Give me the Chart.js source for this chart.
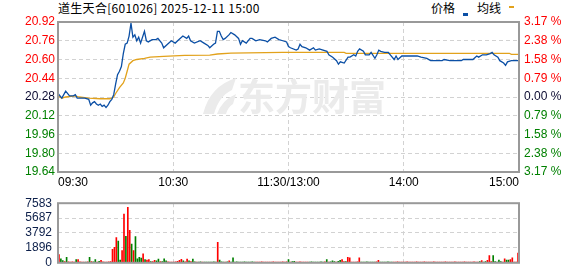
<!DOCTYPE html>
<html>
<head>
<meta charset="utf-8">
<script src="https://cdn.jsdelivr.net/npm/chart.js@4.4.1/dist/chart.umd.min.js"></script>
<style>
  html, body { margin: 0; padding: 0; background: #fff; }
  #wrap { position: relative; width: 578px; height: 276px; overflow: hidden; background: #fff; }
  .txt { position: absolute; top: 0; font: 12px "Noto Sans CJK SC", sans-serif; line-height: 16px; color: #000; white-space: nowrap; }
  .mark { position: absolute; }
  canvas { position: absolute; left: 0; }
</style>
</head>
<body>
<div id="wrap">
  <div class="txt" id="title" style="left:58px;letter-spacing:0.3px;">道生天合[601026] 2025-12-11 15:00</div>
  <div class="txt" style="left:431px;">价格</div>
  <div class="mark" style="left:463px;top:13px;width:5px;height:3px;background:#0b4fa5;"></div>
  <div class="txt" style="left:477px;">均线</div>
  <div class="mark" style="left:509px;top:6px;width:5px;height:2px;background:#e2a21c;"></div>
  <canvas id="priceChart" width="578" height="190" style="top:0;"></canvas>
  <canvas id="volChart" width="578" height="86" style="top:190px;"></canvas>
</div>
<script>
const prevClose = 20.28;
const priceTicks = [19.64, 19.80, 19.96, 20.12, 20.28, 20.44, 20.60, 20.76, 20.92];
const pctLabels = ["3.17 %", "2.38 %", "1.58 %", "0.79 %", "0.00 %", "0.79 %", "1.58 %", "2.38 %", "3.17 %"];
const timeTickMinutes = [0, 60, 120, 180, 240];
const timeTickLabels = ["09:30", "10:30", "11:30/13:00", "14:00", "15:00"];
const volGridMinutes = [60, 120, 180];
const volTicks = [0, 1896, 3792, 5687, 7583];
const watermarkText = "东方财富";

// minute index from 09:30 (0) to 15:00 (240), lunch break removed
const priceMinutes = [
  0, 2, 4, 6, 8, 9, 10, 12, 14, 16, 17, 18, 19, 20, 21, 22, 23, 24, 25, 26,
  27, 28, 29, 30, 31, 32, 33, 34, 35, 36, 37, 38, 39, 40, 41, 42, 43, 45, 46, 47,
  49, 51, 52, 54, 55, 57, 59, 61, 63, 65, 67, 68, 69, 71, 74, 76, 78, 79, 81, 82,
  83, 84, 85, 86, 87, 89, 90, 92, 94, 95, 96, 98, 100, 101, 103, 105, 108, 109, 111, 113,
  115, 117, 119, 120, 121, 124, 125, 126, 127, 129, 131, 133, 134, 136, 138, 140, 141, 143, 145, 146,
  147, 149, 151, 152, 154, 155, 156, 157, 159, 160, 162, 163, 165, 166, 167, 168, 170, 172, 173, 175,
  176, 177, 179, 181, 183, 185, 187, 189, 192, 194, 197, 200, 201, 204, 206, 208, 210, 211, 214, 216,
  218, 219, 221, 223, 225, 226, 227, 229, 230, 232, 233, 234, 236, 240
];
const priceValues = [
  20.31, 20.27, 20.33, 20.29, 20.29, 20.30, 20.27, 20.27, 20.27, 20.26, 20.21, 20.23, 20.24, 20.22, 20.21, 20.22, 20.20, 20.21, 20.19, 20.21,
  20.24, 20.26, 20.30, 20.39, 20.47, 20.50, 20.54, 20.65, 20.73, 20.74, 20.80, 20.91, 20.79, 20.81, 20.76, 20.79, 20.74, 20.84, 20.76, 20.75,
  20.77, 20.77, 20.78, 20.74, 20.70, 20.73, 20.76, 20.74, 20.77, 20.80, 20.78, 20.80, 20.76, 20.74, 20.76, 20.74, 20.72, 20.70, 20.73, 20.74,
  20.84, 20.84, 20.80, 20.77, 20.78, 20.81, 20.83, 20.81, 20.78, 20.73, 20.76, 20.74, 20.78, 20.78, 20.76, 20.77, 20.76, 20.75, 20.78, 20.79,
  20.77, 20.76, 20.75, 20.71, 20.70, 20.68, 20.69, 20.73, 20.71, 20.70, 20.68, 20.70, 20.68, 20.69, 20.68, 20.67, 20.64, 20.62, 20.59, 20.56,
  20.58, 20.57, 20.62, 20.62, 20.64, 20.63, 20.67, 20.69, 20.67, 20.64, 20.64, 20.66, 20.61, 20.64, 20.68, 20.67, 20.66, 20.66, 20.64, 20.60,
  20.63, 20.60, 20.63, 20.63, 20.63, 20.63, 20.63, 20.62, 20.61, 20.59, 20.59, 20.59, 20.60, 20.59, 20.59, 20.59, 20.59, 20.60, 20.60, 20.60,
  20.63, 20.62, 20.64, 20.64, 20.65, 20.66, 20.64, 20.62, 20.59, 20.57, 20.55, 20.58, 20.59, 20.59
];

const avgMinutes = [0, 2, 4, 9, 11, 16, 22, 27, 29, 30, 32, 34, 35, 36, 37, 39, 41, 45, 48, 55, 66, 79, 83, 90, 117, 149, 150, 235, 236, 240];
const avgValues = [
  20.29, 20.27, 20.28, 20.29, 20.28, 20.27, 20.265, 20.265, 20.28, 20.31, 20.36, 20.40, 20.44, 20.50, 20.56,
  20.59, 20.60, 20.61, 20.62, 20.627, 20.636, 20.638, 20.647, 20.655, 20.66, 20.66, 20.653, 20.653, 20.644, 20.644
];

// one bar per minute, 0..240
const volumeValues = [
  1030, 500, 280, 170, 690, 120, 100, 110, 100, 420,
  400, 120, 100, 90, 100, 110, 690, 150, 120, 400,
  100, 200, 300, 120, 100, 100, 110, 150, 1720, 1960,
  3200, 2760, 340, 1550, 6200, 3380, 7060, 4140, 2380, 1550,
  3340, 520, 690, 590, 1140, 410, 340, 410, 170, 170,
  310, 240, 480, 170, 170, 520, 240, 120, 100, 100,
  100, 120, 200, 300, 450, 240, 120, 480, 240, 150,
  470, 120, 100, 100, 110, 100, 100, 90, 100, 100,
  100, 110, 100, 2590, 350, 120, 100, 100, 110, 240,
  100, 620, 100, 110, 100, 100, 100, 110, 100, 100,
  100, 110, 100, 100, 100, 100, 110, 100, 100, 100,
  100, 100, 110, 100, 100, 100, 100, 110, 100, 120,
  410, 100, 150, 200, 100, 100, 110, 100, 100, 100,
  100, 100, 110, 100, 100, 100, 100, 110, 100, 120,
  410, 100, 120, 240, 150, 100, 200, 330, 410, 150,
  150, 690, 620, 100, 100, 100, 110, 620, 100, 100,
  100, 110, 100, 100, 100, 100, 120, 310, 100, 100,
  100, 100, 110, 100, 100, 100, 100, 110, 100, 100,
  100, 100, 110, 100, 100, 100, 100, 110, 100, 100,
  100, 110, 100, 100, 100, 100, 110, 100, 100, 100,
  100, 100, 110, 100, 100, 100, 100, 110, 100, 100,
  100, 100, 110, 100, 100, 100, 100, 120, 100, 100,
  150, 270, 100, 170, 300, 930, 170, 930, 170, 100,
  340, 150, 100, 520, 350, 350, 410, 620, 100, 100, 1240
];
// 1 = up (red), -1 = down (green)
const volumeDir = [
  1, -1, -1, 1, -1, 1, 1, 1, 1, -1,
  1, 1, 1, 1, -1, 1, -1, 1, -1, -1,
  1, -1, 1, 1, 1, 1, 1, 1, 1, 1,
  1, -1, -1, 1, 1, -1, 1, 1, -1, 1,
  -1, -1, -1, -1, 1, -1, 1, 1, -1, 1,
  1, -1, -1, 1, -1, -1, -1, 1, 1, 1,
  1, 1, 1, 1, 1, -1, 1, 1, -1, 1,
  -1, -1, 1, -1, -1, 1, -1, -1, -1, -1,
  -1, -1, -1, 1, -1, -1, -1, 1, -1, 1,
  -1, -1, -1, -1, -1, -1, -1, -1, -1, -1,
  -1, -1, -1, 1, 1, 1, 1, 1, 1, 1,
  1, 1, 1, 1, 1, 1, 1, 1, 1, 1,
  -1, 1, -1, -1, 1, 1, 1, 1, 1, 1,
  1, -1, -1, -1, -1, -1, -1, -1, -1, 1,
  -1, 1, -1, -1, -1, 1, -1, -1, 1, 1,
  -1, 1, 1, 1, 1, 1, 1, 1, -1, -1,
  -1, -1, -1, -1, -1, -1, 1, 1, -1, -1,
  -1, -1, -1, -1, -1, 1, 1, 1, 1, 1,
  1, 1, 1, 1, 1, 1, 1, 1, 1, 1,
  1, 1, 1, 1, 1, 1, 1, 1, 1, 1,
  1, 1, 1, 1, 1, 1, 1, 1, 1, 1,
  1, 1, 1, 1, 1, 1, 1, 1, 1, 1,
  -1, 1, -1, -1, 1, 1, 1, -1, -1, -1,
  -1, -1, 1, 1, -1, -1, 1, 1, 1, 1, 1
];

const RED = "#ff0000";
const GREEN = "#008000";
const DARK = "#0a0a30";
const BLUE = "#0b4fa5";
const ORANGE = "#e2a21c";
const GRID = "#d2d2d2";
const FONT = { family: "'Liberation Sans', Arial, sans-serif", size: 12 };

function priceColor(value) {
  if (Math.abs(value - prevClose) < 1e-6) return DARK;
  return value > prevClose ? RED : GREEN;
}

const frameBox = {
  id: "frameBox",
  afterDraw(chart) {
    const a = chart.chartArea;
    const ctx = chart.ctx;
    ctx.save();
    ctx.strokeStyle = "#999";
    ctx.lineWidth = 2;
    ctx.strokeRect(a.left, a.top, a.right - a.left, a.bottom - a.top);
    ctx.restore();
  }
};

const watermark = {
  id: "watermark",
  beforeDatasetsDraw(chart) {
    const ctx = chart.ctx;
    ctx.save();
    ctx.fillStyle = "#ebebeb";
    // rough logo swoosh
    ctx.beginPath();
    ctx.moveTo(203, 114);
    ctx.quadraticCurveTo(210, 86, 236, 78);
    ctx.lineTo(232, 90);
    ctx.quadraticCurveTo(219, 96, 214, 114);
    ctx.closePath();
    ctx.fill();
    ctx.beginPath();
    ctx.moveTo(217, 114);
    ctx.quadraticCurveTo(222, 100, 236, 94);
    ctx.lineTo(233, 104);
    ctx.quadraticCurveTo(228, 107, 226, 114);
    ctx.closePath();
    ctx.fill();
    ctx.font = "bold 37px 'Noto Sans CJK SC'";
    ctx.textBaseline = "middle";
    ctx.fillText(watermarkText, 238, 97);
    ctx.restore();
  }
};

function buildPriceChart() {
  const priceData = priceMinutes.map((m, i) => ({ x: m, y: priceValues[i] }));
  const avgData = avgMinutes.map((m, i) => ({ x: m, y: avgValues[i] }));

  new Chart(document.getElementById("priceChart"), {
    type: "line",
    data: {
      datasets: [
        { label: "均线", data: avgData, borderColor: ORANGE, borderWidth: 1.3, pointRadius: 0, tension: 0, order: 2 },
        { label: "价格", data: priceData, borderColor: BLUE, borderWidth: 1.3, pointRadius: 0, tension: 0, order: 1 }
      ]
    },
    options: {
      responsive: false,
      animation: false,
      events: [],
      layout: { padding: { top: 22, left: 0, right: 0, bottom: 0 } },
      plugins: { legend: { display: false }, tooltip: { enabled: false } },
      scales: {
        x: {
          type: "linear",
          min: 0,
          max: 240,
          afterBuildTicks: s => { s.ticks = timeTickMinutes.map(v => ({ value: v })); },
          afterFit: s => { s.height = 18; },
          ticks: {
            autoSkip: false,
            maxRotation: 0,
            align: "inner",
            padding: 3,
            color: "#000",
            font: FONT,
            callback: (v, i) => timeTickLabels[i]
          },
          grid: { color: GRID, drawTicks: false },
          border: { display: false, dash: [4, 3] }
        },
        y: {
          position: "left",
          min: priceTicks[0],
          max: priceTicks[priceTicks.length - 1],
          afterBuildTicks: s => { s.ticks = priceTicks.map(v => ({ value: v })); },
          afterFit: s => { s.width = 58; },
          ticks: {
            autoSkip: false,
            padding: 3,
            font: FONT,
            color: c => priceColor(c.tick.value),
            callback: v => Number(v).toFixed(2)
          },
          grid: { color: GRID, drawTicks: false },
          border: { display: false, dash: [4, 3] }
        },
        y2: {
          position: "right",
          min: priceTicks[0],
          max: priceTicks[priceTicks.length - 1],
          afterBuildTicks: s => { s.ticks = priceTicks.map(v => ({ value: v })); },
          afterFit: s => { s.width = 59; },
          ticks: {
            autoSkip: false,
            padding: 5,
            font: FONT,
            color: c => priceColor(c.tick.value),
            callback: (v, i) => pctLabels[i]
          },
          grid: { drawOnChartArea: false, drawTicks: false },
          border: { display: false }
        }
      }
    },
    plugins: [watermark, frameBox]
  });
}

function buildVolumeChart() {
  const labels = volumeValues.map((v, i) => i);
  const colors = volumeDir.map(d => (d > 0 ? RED : GREEN));

  new Chart(document.getElementById("volChart"), {
    type: "bar",
    data: {
      labels,
      datasets: [
        { label: "成交量", data: volumeValues, backgroundColor: colors, borderWidth: 0, barThickness: 1 }
      ]
    },
    options: {
      responsive: false,
      animation: false,
      events: [],
      layout: { padding: { top: 7, left: 0, right: 59, bottom: 0 } },
      plugins: { legend: { display: false }, tooltip: { enabled: false } },
      scales: {
        x: {
          type: "category",
          offset: true,
          afterFit: s => { s.height = 6; },
          ticks: { display: false, autoSkip: false },
          grid: {
            offset: false,
            drawTicks: false,
            color: c => (volGridMinutes.includes(c.index) ? GRID : "rgba(0,0,0,0)")
          },
          border: { display: false, dash: [4, 3] }
        },
        y: {
          min: 0,
          max: volTicks[volTicks.length - 1],
          afterBuildTicks: s => { s.ticks = volTicks.map(v => ({ value: v })); },
          afterFit: s => { s.width = 58; },
          ticks: {
            autoSkip: false,
            padding: 6,
            font: FONT,
            color: "#0c1f4a",
            callback: v => String(v)
          },
          grid: { color: GRID, drawTicks: false },
          border: { display: false, dash: [4, 3] }
        }
      }
    },
    plugins: [frameBox]
  });
}

document.addEventListener("DOMContentLoaded", () => {
  buildPriceChart();
  buildVolumeChart();
});
</script>
</body>
</html>
